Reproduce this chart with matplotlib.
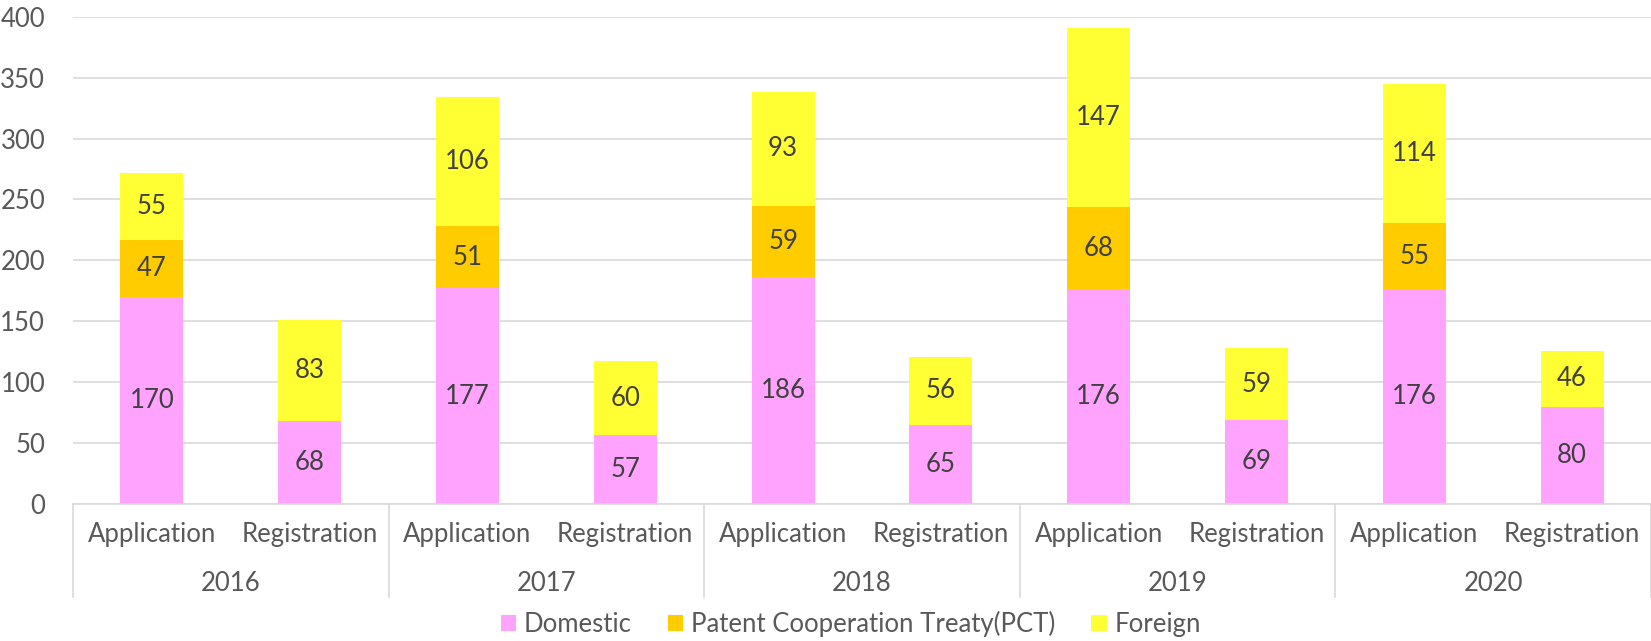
import matplotlib.pyplot as plt
import numpy as np

plt.rcParams['font.family'] = ['Lato', 'DejaVu Sans']

years = ["2016", "2017", "2018", "2019", "2020"]
kinds = ["Application", "Registration"]

# order: 2016 App, 2016 Reg, 2017 App, ...
domestic = [170, 68, 177, 57, 186, 65, 176, 69, 176, 80]
pct = [47, 0, 51, 0, 59, 0, 68, 0, 55, 0]
foreign = [55, 83, 106, 60, 93, 56, 147, 59, 114, 46]

series = ["Domestic", "Patent Cooperation Treaty(PCT)", "Foreign"]
colors = ["#FFA3FF", "#FFCC00", "#FFFF33"]

W, H = 1651, 641
fig = plt.figure(figsize=(W / 100, H / 100), dpi=100)
ax = fig.add_axes([73 / W, 1 - 504 / H, (W - 73) / W, (504 - 16.7) / H])

text_grey = "#595959"
fs = 18.5
x = np.arange(len(domestic))
bottom = np.zeros(len(domestic))
for vals, col, name in zip([domestic, pct, foreign], colors, series):
    vals = np.array(vals)
    ax.bar(x, vals, 0.4, bottom=bottom, color=col, label=name, zorder=2)
    for xi, b, v in zip(x, bottom, vals):
        if v > 0:
            ax.text(xi, b + v / 2, str(v), ha="center", va="center",
                    fontsize=fs, color="#404040", zorder=3)
    bottom = bottom + vals

ax.set_xlim(-0.5, len(domestic) - 0.5)
ax.set_ylim(0, 400)
ax.set_yticks(range(0, 401, 50))
ax.yaxis.grid(True, color="#d9d9d9", linewidth=1.2, zorder=0)
ax.set_axisbelow(True)
for s in ["top", "right", "left"]:
    ax.spines[s].set_visible(False)
ax.spines["bottom"].set_color("#d9d9d9")
ax.spines["bottom"].set_linewidth(1.2)
ax.tick_params(axis="y", length=0, labelsize=fs, labelcolor=text_grey, pad=20)
ax.tick_params(axis="x", length=0, labelsize=fs, labelcolor=text_grey, pad=13)
ax.set_xticks(x)
ax.set_xticklabels(kinds * len(years))

# group separators and year labels
trans = ax.get_xaxis_transform()
for i in range(len(years) + 1):
    ax.plot([2 * i - 0.5, 2 * i - 0.5], [0, -0.191], transform=trans,
            color="#d9d9d9", linewidth=1.2, clip_on=False)
for i, yr in enumerate(years):
    ax.text(2 * i + 0.5, -0.163, yr, transform=trans, ha="center", va="center",
            fontsize=fs, color=text_grey)

fig.legend(loc="center", bbox_to_anchor=(851 / W, 1 - 624 / H), ncol=3,
           frameon=False, fontsize=fs, labelcolor=text_grey,
           handlelength=0.6, handleheight=0.6, handletextpad=0.3, columnspacing=1.4)

fig.savefig("out.png", dpi=100)
